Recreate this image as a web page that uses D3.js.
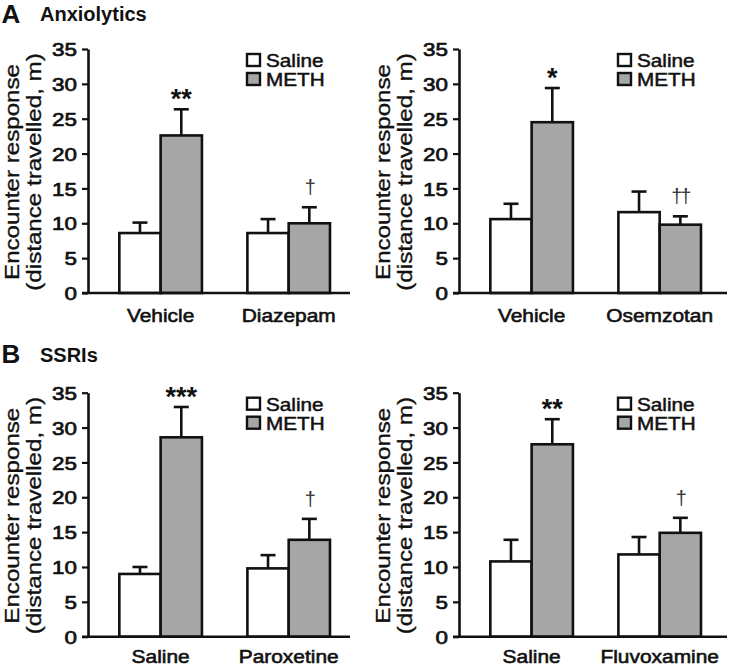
<!DOCTYPE html>
<html>
<head>
<meta charset="utf-8">
<script src="https://cdn.jsdelivr.net/npm/d3@7"></script>
<style>
  html, body { margin: 0; padding: 0; background: #fff; }
  svg { display: block; font-family: "Liberation Sans", Arial, Helvetica, sans-serif; }
</style>
</head>
<body>
<svg id="chart" width="729" height="668"></svg>
<script>
// ---------------- data ----------------
const yTicks = [0, 5, 10, 15, 20, 25, 30, 35];
const seriesNames = ["Saline", "METH"];

const catsA1 = ["Vehicle", "Diazepam"];
const salineA1 = [8.6, 8.6];
const salineSemA1 = [1.5, 2.0];
const methA1 = [22.6, 10.0];
const methSemA1 = [3.75, 2.3];
const annA1 = ["**", "†"];

const catsA2 = ["Vehicle", "Osemzotan"];
const salineA2 = [10.6, 11.6];
const salineSemA2 = [2.2, 2.95];
const methA2 = [24.5, 9.8];
const methSemA2 = [4.9, 1.2];
const annA2 = ["*", "††"];

const catsB1 = ["Saline", "Paroxetine"];
const salineB1 = [9.0, 9.8];
const salineSemB1 = [1.0, 1.9];
const methB1 = [28.6, 13.9];
const methSemB1 = [4.35, 3.0];
const annB1 = ["***", "†"];

const catsB2 = ["Saline", "Fluvoxamine"];
const salineB2 = [10.8, 11.8];
const salineSemB2 = [3.1, 2.5];
const methB2 = [27.6, 14.9];
const methSemB2 = [3.6, 2.15];
const annB2 = ["**", "†"];

const panelLetters = ["A", "B"];
const panelTitles = ["Anxiolytics", "SSRIs"];
const yTitle1 = "Encounter response";
const yTitle2 = "(distance travelled, m)";

// ---------------- drawing ----------------
const svg = d3.select("#chart");
const INK = "#111";
const GRAY = "#a6a6a6";

function stext(parent, o) {
  const g = parent.append("g")
    .attr("transform", `translate(${o.x},${o.y}) rotate(${o.rotate || 0}) scale(${o.sx || 1},1)`);
  const t = g.append("text")
    .attr("x", 0).attr("y", 0)
    .attr("text-anchor", o.anchor || "start")
    .attr("font-size", o.size)
    .attr("font-weight", o.weight || "normal")
    .attr("fill", o.fill || INK)
    .text(o.text);
  if (o.ls) t.attr("letter-spacing", o.ls);
  if (o.stroke) t.attr("stroke", o.fill || INK).attr("stroke-width", o.stroke);
  return t;
}

function drawPanel(cfg) {
  const g = svg.append("g");
  const y = d3.scaleLinear().domain([0, 35]).range([cfg.y0, cfg.y35]);
  const x = d3.scaleBand().domain(cfg.cats)
    .range([cfg.axisX, cfg.axisX + 257])
    .paddingInner(0.355).paddingOuter(0.181).align(0.676);
  const xs = d3.scaleBand().domain(seriesNames).range([0, x.bandwidth()]);

  const rows = [];
  cfg.cats.forEach((c, i) => {
    rows.push({cat: c, s: "Saline", v: cfg.saline[i], e: cfg.salineSem[i], ann: null});
    rows.push({cat: c, s: "METH", v: cfg.meth[i], e: cfg.methSem[i], ann: cfg.ann[i]});
  });

  // error bars (upper only)
  const cap = 15;
  rows.forEach(d => {
    const cx = x(d.cat) + xs(d.s) + xs.bandwidth() / 2;
    g.append("line").attr("x1", cx).attr("x2", cx)
      .attr("y1", y(d.v)).attr("y2", y(d.v + d.e))
      .attr("stroke", INK).attr("stroke-width", 2.6);
    g.append("line").attr("x1", cx - cap / 2).attr("x2", cx + cap / 2)
      .attr("y1", y(d.v + d.e)).attr("y2", y(d.v + d.e))
      .attr("stroke", INK).attr("stroke-width", 2.6);
  });

  // bars
  g.selectAll("rect.bar").data(rows).join("rect")
    .attr("class", "bar")
    .attr("x", d => x(d.cat) + xs(d.s))
    .attr("width", xs.bandwidth())
    .attr("y", d => y(d.v))
    .attr("height", d => y(0) - y(d.v))
    .attr("fill", d => d.s === "Saline" ? "#fff" : GRAY)
    .attr("stroke", INK).attr("stroke-width", 2.6);

  // annotations
  rows.filter(d => d.ann).forEach(d => {
    const cx = x(d.cat) + xs(d.s) + xs.bandwidth() / 2;
    const top = y(d.v + d.e);
    if (d.ann.includes("*")) {
      stext(g, {x: cx, y: top - 1, text: d.ann, size: 27, weight: "bold", anchor: "middle"});
    } else {
      stext(g, {x: cx, y: top - 13, text: d.ann, size: 20, anchor: "middle", fill: "#333", ls: -2});
    }
  });

  // y axis
  const ax = g.append("g").attr("transform", `translate(${cfg.axisX},0)`)
    .call(d3.axisLeft(y).tickValues(yTicks).tickSize(6).tickSizeOuter(0));
  ax.select(".domain").attr("stroke", INK).attr("stroke-width", 2.6);
  ax.selectAll(".tick line").attr("stroke", INK).attr("stroke-width", 2.2);
  ax.selectAll(".tick text").remove();
  ax.selectAll(".tick").each(function(v) {
    stext(d3.select(this), {x: -11, y: 6.6, text: v, size: 19, anchor: "end", sx: 1.18, stroke: 0.7});
  });

  // x axis line
  g.append("line").attr("x1", cfg.axisX - 6).attr("x2", cfg.axisEnd)
    .attr("y1", y(0)).attr("y2", y(0))
    .attr("stroke", INK).attr("stroke-width", 2.6);

  // category labels
  cfg.cats.forEach(c => {
    stext(g, {x: x(c) + x.bandwidth() / 2, y: y(0) + cfg.labOff, text: c, size: 19, anchor: "middle", sx: 1.1, stroke: 0.6});
  });

  // y titles
  const my = (y(0) + y(35)) / 2 + 1;
  stext(g, {x: cfg.axisX - 69, y: my, text: yTitle1, size: 21, anchor: "middle", rotate: -90, sx: 1.15, stroke: 0.35});
  stext(g, {x: cfg.axisX - 47, y: my, text: yTitle2, size: 21, anchor: "middle", rotate: -90, sx: 1.15, stroke: 0.35});

  // legend
  const lx = cfg.axisX + 159;
  seriesNames.forEach((s, i) => {
    const ly = y(35) + 5 + i * 19;
    g.append("rect").attr("x", lx).attr("y", ly).attr("width", 13).attr("height", 12)
      .attr("fill", s === "Saline" ? "#fff" : GRAY)
      .attr("stroke", INK).attr("stroke-width", 2.4);
    stext(g, {x: lx + 19, y: ly + 13, text: s, size: 18, sx: 1.15, stroke: 0.5});
  });
}

// panel headers
stext(svg, {x: 1.5, y: 23, text: panelLetters[0], size: 26, weight: "bold"});
stext(svg, {x: 40, y: 21, text: panelTitles[0], size: 20, weight: "bold"});
stext(svg, {x: 1.5, y: 363, text: panelLetters[1], size: 26, weight: "bold"});
stext(svg, {x: 40, y: 362, text: panelTitles[1], size: 20, weight: "bold"});

drawPanel({cats: catsA1, saline: salineA1, salineSem: salineSemA1, meth: methA1, methSem: methSemA1, ann: annA1,
  axisX: 88, axisEnd: 350, y0: 293, y35: 49, labOff: 29});
drawPanel({cats: catsA2, saline: salineA2, salineSem: salineSemA2, meth: methA2, methSem: methSemA2, ann: annA2,
  axisX: 459, axisEnd: 727, y0: 293, y35: 49, labOff: 29});
drawPanel({cats: catsB1, saline: salineB1, salineSem: salineSemB1, meth: methB1, methSem: methSemB1, ann: annB1,
  axisX: 88, axisEnd: 350, y0: 636.7, y35: 392.7, labOff: 26.5});
drawPanel({cats: catsB2, saline: salineB2, salineSem: salineSemB2, meth: methB2, methSem: methSemB2, ann: annB2,
  axisX: 459, axisEnd: 727, y0: 636.7, y35: 392.7, labOff: 26.5});
</script>
</body>
</html>
